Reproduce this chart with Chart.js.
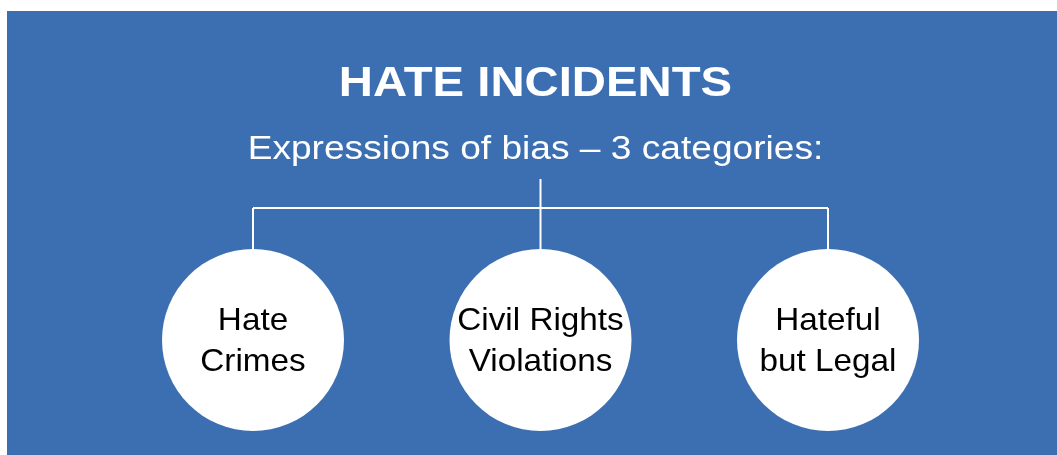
<!DOCTYPE html>
<html>
<head>
<meta charset="utf-8">
<script src="https://cdn.jsdelivr.net/npm/chart.js@4"></script>
<style>
  html, body { margin: 0; padding: 0; background: #fff; }
  canvas { display: block; }
</style>
</head>
<body>
<canvas id="diagram" width="1057" height="455"></canvas>
<script>
// diagram content
var title = 'HATE INCIDENTS';
var subtitle = 'Expressions of bias \u2013 3 categories:';
var categories = [['Hate', 'Crimes'], ['Civil Rights', 'Violations'], ['Hateful', 'but Legal']];
var parentIndex = 1;   // the stem comes down over the middle category

// tree levels (y scale units, top = 0)
var levels = { stemTop: 179, bus: 208, circle: 340 };

var blue = '#3c6fb2';
var circleR = 91;

var ctx = document.getElementById('diagram').getContext('2d');

// connectors: stem, bus and one drop per category
var segments = [];
segments.push([{ x: parentIndex, y: levels.stemTop }, { x: parentIndex, y: levels.bus }]);
segments.push([{ x: 0, y: levels.bus }, { x: categories.length - 1, y: levels.bus }]);
categories.forEach(function (c, i) {
    segments.push([{ x: i, y: levels.bus }, { x: i, y: levels.circle }]);
});

var datasets = segments.map(function (seg) {
    return {
        type: 'line',
        data: seg,
        borderColor: '#ffffff',
        borderWidth: 2,
        pointRadius: 0,
        fill: false,
        order: 2
    };
});
datasets.push({
    type: 'bubble',
    data: categories.map(function (c, i) {
        return { x: i, y: levels.circle, r: circleR };
    }),
    backgroundColor: '#ffffff',
    borderWidth: 0,
    hoverRadius: 0,
    order: 1
});

var panelPlugin = {
    id: 'panel',
    beforeDraw: function (chart) {
        var c = chart.ctx;
        c.save();
        c.fillStyle = '#ffffff';
        c.fillRect(0, 0, chart.width, chart.height);
        c.fillStyle = blue;
        c.fillRect(7, 11, chart.width - 7, chart.height - 11);
        c.restore();
    }
};

// text is a little wider than the font's own proportions, so stretch it
var stretchText = function (c, text, x, y, sx) {
    c.save();
    c.translate(x, y);
    c.scale(sx, 1);
    c.fillText(text, 0, 0);
    c.restore();
};

var textPlugin = {
    id: 'texts',
    afterDraw: function (chart) {
        var c = chart.ctx;
        var xs = chart.scales.x;
        var ys = chart.scales.y;
        var mid = (xs.getPixelForValue(0) + xs.getPixelForValue(categories.length - 1)) / 2;
        c.save();
        c.textAlign = 'center';
        c.textBaseline = 'alphabetic';
        c.fillStyle = '#ffffff';
        c.font = 'bold 43px "Liberation Sans", Arial, sans-serif';
        stretchText(c, title, mid - 5, 96, 1.1);
        c.font = '33px "Liberation Sans", Arial, sans-serif';
        stretchText(c, subtitle, mid - 5, 159, 1.125);

        c.fillStyle = '#000000';
        c.font = '32px "Liberation Sans", Arial, sans-serif';
        var lineH = 41;
        categories.forEach(function (lines, i) {
            var cx = xs.getPixelForValue(i);
            var cy = ys.getPixelForValue(levels.circle) + 10;
            var y0 = cy - (lines.length - 1) * lineH / 2;
            lines.forEach(function (t, k) {
                stretchText(c, t, cx, y0 + k * lineH, 1.04);
            });
        });
        c.restore();
    }
};

new Chart(ctx, {
    type: 'scatter',
    data: { datasets: datasets },
    options: {
        responsive: false,
        animation: false,
        events: [],
        layout: { padding: 0, autoPadding: false },
        plugins: {
            legend: { display: false },
            tooltip: { enabled: false }
        },
        scales: {
            x: { type: 'linear', display: false, min: -0.88, max: 2.7965 },
            y: { type: 'linear', display: false, min: 0, max: 455, reverse: true }
        }
    },
    plugins: [panelPlugin, textPlugin]
});
</script>
</body>
</html>
